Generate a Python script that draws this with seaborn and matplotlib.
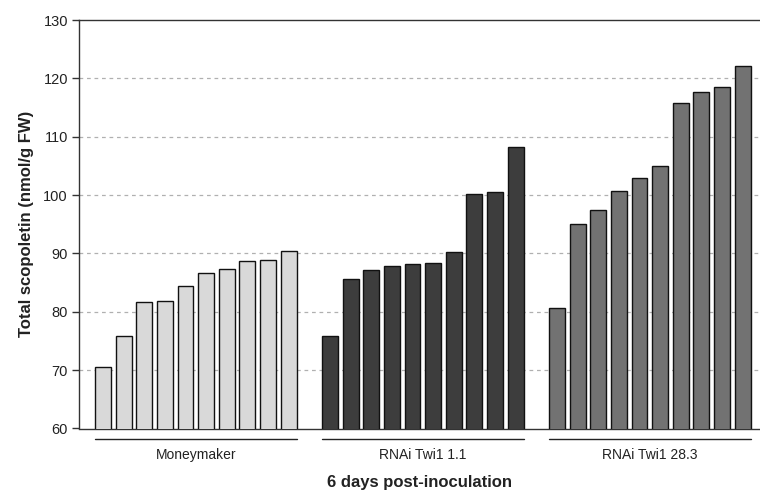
import matplotlib
matplotlib.use("Agg")
import matplotlib.pyplot as plt
import seaborn as sns
import pandas as pd

groups = ["Moneymaker", "RNAi Twi1 1.1", "RNAi Twi1 28.3"]
moneymaker = [70.6, 75.9, 81.6, 81.8, 84.4, 86.7, 87.4, 88.7, 88.9, 90.5]
rnai_11 = [75.9, 85.6, 87.1, 87.9, 88.2, 88.4, 90.2, 100.2, 100.5, 108.2]
rnai_283 = [80.7, 95.1, 97.4, 100.7, 103.0, 104.9, 115.7, 117.7, 118.5, 122.1]
colors = ["#d9d9d9", "#3d3d3d", "#727272"]
yticks = [60, 70, 80, 90, 100, 110, 120, 130]

sns.set_theme(style="white")
plt.rcParams['font.family'] = ['Liberation Sans', 'DejaVu Sans']

rows = []
order = []
series = [moneymaker, rnai_11, rnai_283]
for gi, (g, vals) in enumerate(zip(groups, series)):
    for i, v in enumerate(vals):
        slot = f"{g}_{i}"
        rows.append({"slot": slot, "group": g, "value": v})
        order.append(slot)
    if gi < len(groups) - 1:
        order.append(f"gap{gi}")
df = pd.DataFrame(rows)

fig = plt.figure(figsize=(7.6, 4.9), dpi=100)
ax = fig.add_axes([79 / 760, 1 - 428.5 / 490, 681 / 760, (428.5 - 20) / 490])

sns.barplot(data=df, x="slot", y="value", hue="group", order=order,
            hue_order=groups, palette=colors, dodge=False, width=0.77,
            edgecolor="#111111", linewidth=1.0, legend=False, ax=ax, zorder=3)

ax.set_ylim(60, 130)
ax.set_xlim(-1.16, 31.84)
ax.set_yticks(yticks)
ax.set_yticklabels([str(t) for t in yticks], fontsize=10.5, color="#222222")
ax.set_xticks([])
ax.set_xlabel("")
ax.set_ylabel("Total scopoletin (nmol/g FW)", fontsize=12, fontweight="bold",
              color="#222222", labelpad=7)

for y in yticks[1:-1]:
    ax.axhline(y, color="#b0b0b0", linestyle=(0, (3, 3)), linewidth=0.9, zorder=1)

ax.spines["right"].set_visible(False)
for s in ["left", "bottom", "top"]:
    ax.spines[s].set_color("#333333")
    ax.spines[s].set_linewidth(1.0)
ax.tick_params(axis="y", which="both", left=True, length=5, width=1.0,
               color="#333333", pad=3)

trans = ax.get_xaxis_transform()
w = 0.77
for gi, g in enumerate(groups):
    start = gi * 11
    end = start + 9
    ax.plot([start - w / 2, end + w / 2], [-0.025, -0.025], transform=trans,
            color="#222222", linewidth=1.0, clip_on=False)
    ax.text((start + end) / 2, -0.047, g, transform=trans, ha="center",
            va="top", fontsize=10, color="#222222")

fig.text((79 + 760) / 2 / 760, 1 - 482 / 490, "6 days post-inoculation",
         ha="center", va="center", fontsize=12, fontweight="bold", color="#222222")

fig.savefig("out.png", dpi=100)
